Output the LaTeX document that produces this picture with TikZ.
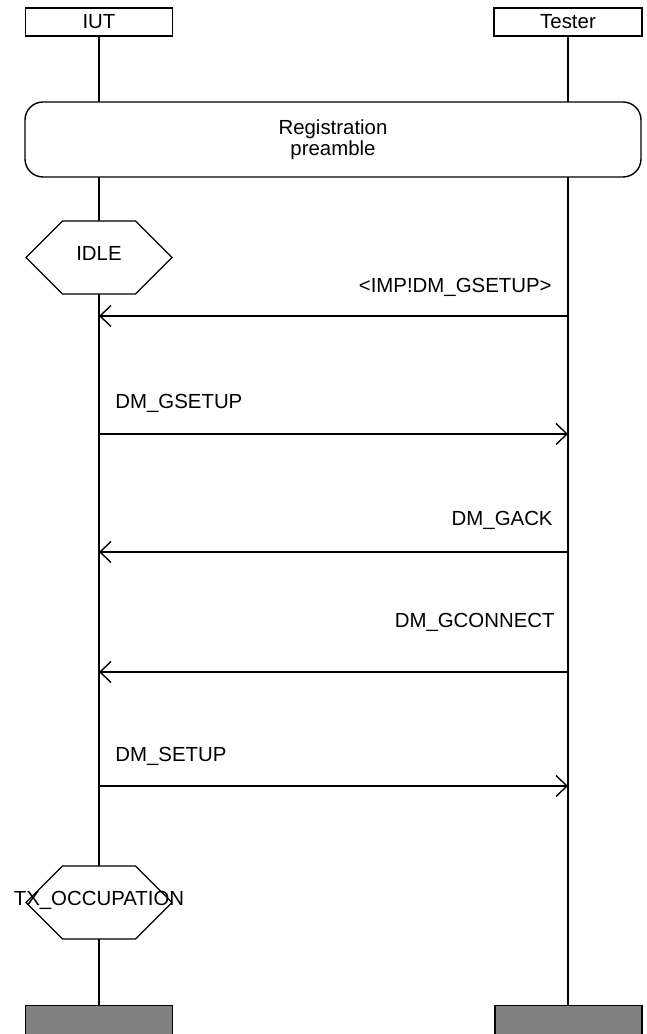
\documentclass[tikz,border=0pt]{standalone}
\usepackage{fontspec}
\setmainfont{Liberation Sans}
\usepackage{tikz}
\usetikzlibrary{arrows.meta,shapes.symbols}

\begin{document}
\begin{tikzpicture}[x=0.5pt,y=0.5pt,
  every node/.style={font=\fontsize{10.2}{10.5}\selectfont},
  instance/.style={draw,line width=0.7pt,fill=white,minimum width=73.5pt,minimum height=14pt,inner sep=0pt},
  endbox/.style={draw,line width=0.7pt,fill=black!50,minimum width=73.5pt,minimum height=30pt,inner sep=0pt,anchor=north},
  condition/.style={draw,line width=0.7pt,fill=white,signal,signal to=west and east,signal pointer angle=90,
    minimum width=73pt,minimum height=36.5pt,inner sep=0pt},
  condtext/.style={inner sep=0pt,text depth=4.5pt},
  msgtext/.style={inner sep=0pt},
  msg/.style={line width=0.7pt,-{Straight Barb[length=5.5pt,width=10.5pt]}},
  lifeline/.style={line width=0.7pt}]
\useasboundingbox (0,0) rectangle (647,1034);

\coordinate (iuttop) at (99,1012);
\coordinate (testertop) at (568,1012);
\node[endbox] (iutend) at (99,29) {};
\node[endbox] (testerend) at (568.5,29) {};
\draw[lifeline] (iuttop) -- (iutend.north);
\draw[lifeline] (testertop) -- (testerend.north -| testertop);

\node[instance] (iut) at (iuttop) {IUT};
\node[instance,minimum width=74pt] (tester) at (testertop) {Tester};

\node[draw,line width=0.7pt,fill=white,rounded corners=9pt,minimum width=308pt,minimum height=37.5pt,align=center] (pre) at (333,894.5) {Registration\\preamble};

\node[condition] (idle) at (99,776.5) {};
\node[condtext] (idletext) at (idle) {IDLE};

\coordinate (t1) at (568,718);
\coordinate (i1) at (99,718);
\draw[msg] (t1) -- (i1);
\node[msgtext,anchor=base east] (m1) at (552,741) {<IMP!DM\_GSETUP>};

\coordinate (i2) at (99,600);
\coordinate (t2) at (568,600);
\draw[msg] (i2) -- (t2);
\node[msgtext,anchor=base west] (m2) at (115,625) {DM\_GSETUP};

\coordinate (t3) at (568,482);
\coordinate (i3) at (99,482);
\draw[msg] (t3) -- (i3);
\node[msgtext,anchor=base east] (m3) at (553,508) {DM\_GACK};

\coordinate (t4) at (568,362);
\coordinate (i4) at (99,362);
\draw[msg] (t4) -- (i4);
\node[msgtext,anchor=base east] (m4) at (555,406) {DM\_GCONNECT};

\coordinate (i5) at (99,248);
\coordinate (t5) at (568,248);
\draw[msg] (i5) -- (t5);
\node[msgtext,anchor=base west] (m5) at (115,272) {DM\_SETUP};

\node[condition] (txocc) at (99,131.5) {};
\node[condtext] (txtext) at (txocc) {TX\_OCCUPATION};
\end{tikzpicture}
\end{document}
